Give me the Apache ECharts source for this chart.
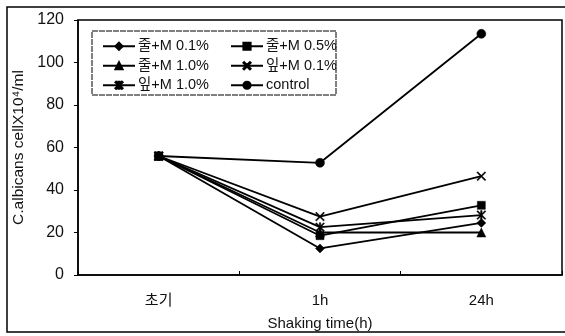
<!DOCTYPE html>
<html><head><meta charset="utf-8">
<script src="https://cdn.jsdelivr.net/npm/echarts@6/dist/echarts.min.js"></script>
<style>html,body{margin:0;padding:0;background:#fff}#c{width:565px;height:336px}</style>
</head><body><div id="c"></div>
<script>
const categories = ['초기', '1h', '24h'];
const s_jul01 = [56, 12.5, 24.5];
const s_jul05 = [56, 18.5, 32.8];
const s_jul10 = [56, 20, 20];
const s_ip01 = [56, 27.5, 46.5];
const s_ip10 = [56, 22.5, 28.2];
const s_control = [56, 52.8, 113.5];
const yTicks = {min: 0, max: 120, interval: 20};

const FONT = "'Liberation Sans', Arial, 'Noto Sans CJK KR', sans-serif";
const xSym = 'path://M0,1L1,0L5,4L9,0L10,1L6,5L10,9L9,10L5,6L1,10L0,9L4,5Z';
const starSym = 'path://M0,1L1,0L5,4L9,0L10,1L6,5L10,9L9,10L5,6L1,10L0,9L4,5ZM4.2,0L5.8,0L5.8,10L4.2,10Z';

function mk(name, data, symbol, size) {
  return {
    name, type: 'line', data, symbol, symbolSize: size,
    showAllSymbol: true,
    lineStyle: {color: '#000', width: 1.8},
    itemStyle: {color: '#000', borderColor: '#000', borderWidth: 0.5},
    emphasis: {disabled: true}, animation: false
  };
}

const chart = echarts.init(document.getElementById('c'), null, {renderer: 'canvas'});
const legendCommon = {
  orient: 'vertical', itemWidth: 32, itemHeight: 9, itemGap: 5,
  textStyle: {fontFamily: FONT, fontSize: 14.5, color: '#111', padding: [0, 0, 0, -2]},
  selectedMode: false
};
chart.setOption({
  animation: false,
  grid: {left: 78, right: 3, top: 20, bottom: 61, show: true, borderColor: '#000', borderWidth: 1.5, backgroundColor: 'transparent'},
  legend: [
    Object.assign({}, legendCommon, {left: 97, top: 34, data: ['줄+M 0.1%', '줄+M 1.0%', '잎+M 1.0%']}),
    Object.assign({}, legendCommon, {left: 225, top: 34, data: ['줄+M 0.5%', '잎+M 0.1%', 'control']})
  ],
  graphic: [
    {type: 'rect', shape: {x: 7, y: 7, width: 562, height: 325}, style: {fill: 'none', stroke: '#000', lineWidth: 1.5}, z: 0},
    {type: 'rect', shape: {x: 92, y: 31, width: 244, height: 64}, style: {fill: '#fff', stroke: '#000', lineWidth: 1, lineDash: [6, 1]}, z: 1}
  ],
  xAxis: {
    type: 'category', data: categories, boundaryGap: true,
    axisLine: {lineStyle: {color: '#000', width: 1.5}},
    axisTick: {show: true, inside: true, length: 4, lineStyle: {color: '#000'}},
    axisLabel: {fontFamily: FONT, fontSize: 15, color: '#111', margin: 18},
    name: 'Shaking time(h)', nameLocation: 'middle', nameGap: 41,
    nameTextStyle: {fontFamily: FONT, fontSize: 15, color: '#111'}
  },
  yAxis: {
    type: 'value', min: yTicks.min, max: yTicks.max, interval: yTicks.interval,
    splitLine: {show: false},
    axisLine: {show: true, lineStyle: {color: '#000', width: 1.5}},
    axisTick: {show: true, length: 4, lineStyle: {color: '#000'}},
    axisLabel: {fontFamily: FONT, fontSize: 16, color: '#111', margin: 14},
    name: 'C.albicans cellX10⁴/ml', nameLocation: 'middle', nameGap: 40,
    nameTextStyle: {fontFamily: FONT, fontSize: 15.5, color: '#111'}
  },
  series: [
    mk('줄+M 0.1%', s_jul01, 'diamond', 9),
    mk('줄+M 0.5%', s_jul05, 'rect', 8),
    mk('줄+M 1.0%', s_jul10, 'triangle', 9),
    mk('잎+M 0.1%', s_ip01, xSym, 9),
    mk('잎+M 1.0%', s_ip10, starSym, 9),
    mk('control', s_control, 'circle', 9)
  ]
});
</script></body></html>
